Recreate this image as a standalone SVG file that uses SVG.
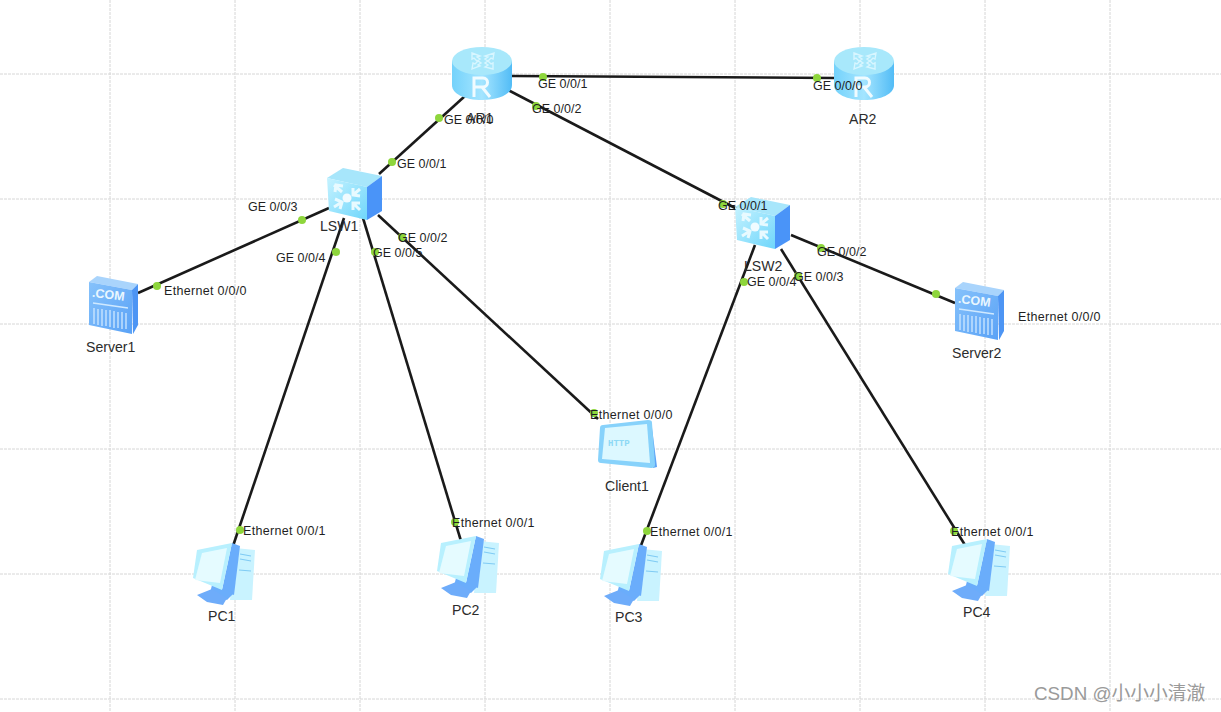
<svg xmlns="http://www.w3.org/2000/svg" width="1221" height="712" viewBox="0 0 1221 712">
<style>
.g{stroke:#d6d6d6;stroke-width:1;stroke-dasharray:3 1;fill:none}
.c{stroke:#1a1a1a;stroke-width:2.6;fill:none}
.d{fill:#8ed63c}
text{font-family:"Liberation Sans",Arial,"Noto Sans CJK SC",sans-serif;font-size:12.5px;fill:#1f1f1f}
.e{letter-spacing:.3px}
.n{font-size:14.1px;fill:#2c2c2c}
.w{font-size:18.8px;fill:#9a9a9a}
</style>
<defs>
<linearGradient id="rb" x1="0" x2="1" y1="0" y2="0"><stop offset="0" stop-color="#74d2fb"/><stop offset=".5" stop-color="#a4e5ff"/><stop offset="1" stop-color="#52bcf6"/></linearGradient>
<linearGradient id="sf" x1="0" x2="1" y1="0" y2="1"><stop offset="0" stop-color="#c4f2ff"/><stop offset="1" stop-color="#6fd6fb"/></linearGradient>
<linearGradient id="vf" x1="0" x2="1" y1="0" y2="1"><stop offset="0" stop-color="#86c2fb"/><stop offset="1" stop-color="#5aa2f6"/></linearGradient>
<symbol id="router" width="60" height="54" viewBox="0 0 60 54" overflow="visible">
<path d="M0 14V38C0 47 13 53 30 53S60 47 60 38V14Z" fill="url(#rb)"/>
<ellipse cx="30" cy="14" rx="30" ry="14" fill="#a8e8fb"/>
<path d="M20 6 28 9 25 10 28 12 25 14 22 11 20 12ZM42 6 41 12 39 11 36 14 33 12 36 10 33 9ZM20 22 21 16 23 17 26 14 29 16 26 18 28 19ZM41 22 33 20 36 18 33 16 36 14 39 17 41 16Z" fill="none" stroke="#d8f6ff" stroke-width="1.4"/>
<path d="M22 50V31H31C37 31 37 40 31 40H22M30 40 38 50" stroke="#f0fbff" stroke-width="3" fill="none"/>
</symbol>
<symbol id="switch" width="56" height="54" viewBox="0 0 56 54" overflow="visible">
<path d="M0 11 16 1 55 9 40 20Z" fill="#a7e6fb"/>
<path d="M40 20 55 9V44L40 53Z" fill="#4a94f8"/>
<path d="M0 11 40 20V53L2 44Z" fill="url(#sf)"/>
<circle cx="20" cy="31" r="4.500" fill="#f0fbff"/>
<g stroke="#e8faff" stroke-width="3" fill="none"><path d="M7 18 15 25M8 25 9 18 16 19"/><path d="M33 22 26 28M26 21 26 28 33 29"/><path d="M7 40 15 35M8 32 15 35 13 42"/><path d="M33 43 26 36M26 43 26 36 33 36"/></g>
</symbol>
<symbol id="server" width="51" height="60" viewBox="0 0 51 60" overflow="visible">
<path d="M1 7 9 1 50 9 44 15Z" fill="#a9d4fc"/>
<path d="M44 15 50 9V50L45 59Z" fill="#4d95f4"/>
<path d="M1 7 44 15V59L1 50Z" fill="url(#vf)"/>
<text x="4" y="24" style="font:bold 12.500px 'Liberation Sans',sans-serif;fill:#eaf7ff" transform="rotate(7 22 20)">.COM</text>
<path d="M5 28 40 33M6 33V49M10 34V50M14 34V51M18 35V51M22 35V52M26 36V53M30 37V53M34 37V54M38 38V54" stroke="#cfe9ff" stroke-width="1.300" fill="none"/>
</symbol>
<symbol id="pc" width="65" height="62" viewBox="0 0 65 62" overflow="visible">
<path d="M45 5 65 7 62 57 40 57Z" fill="#c9f3ff"/>
<path d="M50 11 61 13M50 16 61 18M49 27 61 28" stroke="#7fcbf4" stroke-width="1.200" fill="none"/>
<path d="M42 0 50 3 44 52 32 47Z" fill="#6aadfb"/>
<path d="M22 42 44 50 37 57 20 50Z" fill="#6aadfb"/>
<path d="M7 7 42 0 32 47 3 35Z" fill="#b8f0fe"/>
<path d="M12 10 37 5 30 40 5 37Z" fill="#e5fbff"/>
<path d="M7 52 22 46 37 55 33 62 17 59Z" fill="#6eacfa"/>
</symbol>
<symbol id="client" width="60" height="52" viewBox="0 0 60 52" overflow="visible">
<path d="M54 1 60 48 56 49Z" fill="#5da4f6"/>
<path d="M6 6 51 1C54 1 55 2 55 4L58 45C58 48 57 49 54 49L4 44C2 44 1 43 1 41L3 9C3 7 4 6 6 6Z" fill="#87d2fb"/>
<path d="M8 9 50 5 53 44 5 40Z" fill="#dcf8ff"/>
<text x="11" y="27" style="font:bold 9px 'Liberation Mono',monospace;fill:#8ed9f5">HTTP</text>
</symbol>
</defs>
<rect width="1221" height="712" fill="#fff"/>
<g id="grid" class="g">
<path d="M110 0V712M235 0V712M360 0V712M485 0V712M610 0V712M735 0V712M860 0V712M985 0V712M1110 0V712"/>
<path d="M0 74H1221M0 199H1221M0 324H1221M0 449H1221M0 574H1221M0 699H1221"/>
</g>
<g id="connectors" class="c">
<path d="M512 76 836 78"/>
<path d="M465 96 379 174"/>
<path d="M508 90 737 209"/>
<path d="M329 208 138 293"/>
<path d="M344 218 233 546"/>
<path d="M363 218 461 541"/>
<path d="M378 215 598 419"/>
<path d="M755 245 640 548"/>
<path d="M781 249 965 545"/>
<path d="M791 235 955 303"/>
</g>
<g id="AR1"><use href="#router" x="452" y="47"/><text class="n" x="466" y="123">AR1</text></g>
<g id="AR2"><use href="#router" x="834" y="47"/><text class="n" x="849" y="124">AR2</text></g>
<g id="LSW1"><use href="#switch" x="327" y="167"/><text class="n" x="320" y="231">LSW1</text></g>
<g id="LSW2"><use href="#switch" x="735" y="196"/><text class="n" x="744" y="271">LSW2</text></g>
<g id="Server1"><use href="#server" x="88" y="275"/><text class="n" x="86" y="352">Server1</text></g>
<g id="Server2"><use href="#server" x="954" y="281"/><text class="n" x="952" y="358">Server2</text></g>
<g id="Client1"><use href="#client" x="597" y="419"/><text class="n" x="605" y="491">Client1</text></g>
<g id="PC1"><use href="#pc" x="190" y="543"/><text class="n" x="208" y="621">PC1</text></g>
<g id="PC2"><use href="#pc" x="434" y="536"/><text class="n" x="452" y="615">PC2</text></g>
<g id="PC3"><use href="#pc" x="597" y="544"/><text class="n" x="615" y="622">PC3</text></g>
<g id="PC4"><use href="#pc" x="945" y="539"/><text class="n" x="963" y="617">PC4</text></g>
<g id="ports">
<g class="d">
<circle cx="543" cy="77" r="4"/><circle cx="817" cy="78" r="4"/><circle cx="536" cy="106" r="4"/><circle cx="723" cy="204" r="4"/>
<circle cx="439" cy="118" r="4"/><circle cx="392" cy="162" r="4"/><circle cx="302" cy="220" r="4"/><circle cx="157" cy="286" r="4"/>
<circle cx="336" cy="252" r="4"/><circle cx="240" cy="530" r="4"/><circle cx="375" cy="252" r="4"/><circle cx="455" cy="522" r="4"/>
<circle cx="402" cy="237" r="4"/><circle cx="594" cy="413" r="4"/><circle cx="744" cy="282" r="4"/><circle cx="647" cy="531" r="4"/>
<circle cx="798" cy="276" r="4"/><circle cx="954" cy="531" r="4"/><circle cx="821" cy="248" r="4"/><circle cx="936" cy="294" r="4"/>
</g>
<text x="538" y="88">GE 0/0/1</text>
<text x="813" y="90">GE 0/0/0</text>
<text x="532" y="113">GE 0/0/2</text>
<text x="718" y="210">GE 0/0/1</text>
<text x="444" y="124">GE 0/0/0</text>
<text x="397" y="168">GE 0/0/1</text>
<text x="248" y="211">GE 0/0/3</text>
<text class="e" x="164" y="295">Ethernet 0/0/0</text>
<text x="276" y="262">GE 0/0/4</text>
<text class="e" x="243" y="535">Ethernet 0/0/1</text>
<text x="373" y="257">GE 0/0/5</text>
<text class="e" x="452" y="527">Ethernet 0/0/1</text>
<text x="398" y="242">GE 0/0/2</text>
<text class="e" x="590" y="419">Ethernet 0/0/0</text>
<text x="747" y="286">GE 0/0/4</text>
<text class="e" x="650" y="536">Ethernet 0/0/1</text>
<text x="794" y="281">GE 0/0/3</text>
<text class="e" x="951" y="536">Ethernet 0/0/1</text>
<text x="817" y="256">GE 0/0/2</text>
<text class="e" x="1018" y="321">Ethernet 0/0/0</text>
</g>
<text class="w" x="1034" y="700">CSDN @小小小清澈</text>
</svg>
